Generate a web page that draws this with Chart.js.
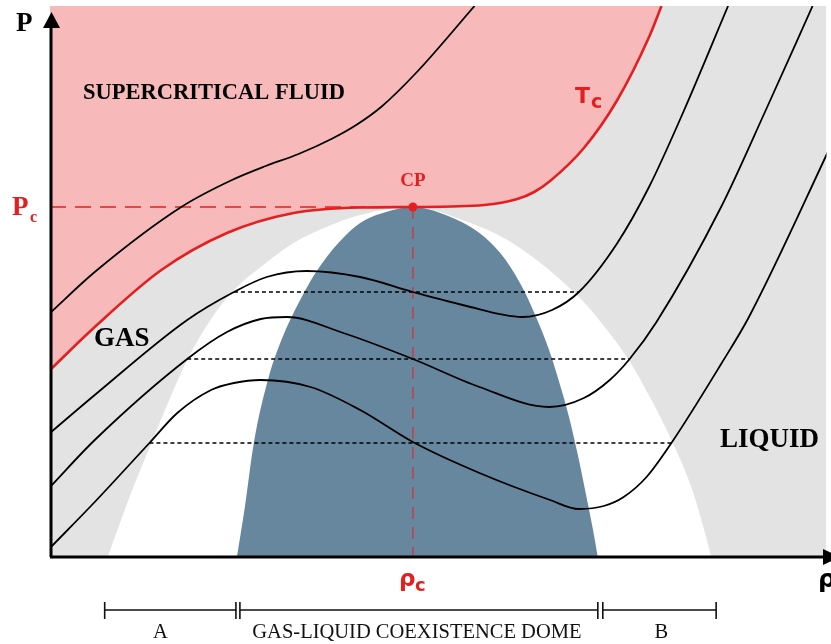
<!DOCTYPE html>
<html lang="en">
<head>
<meta charset="UTF-8">
<title>P-rho phase diagram</title>
<script src="https://cdn.jsdelivr.net/npm/chart.js@4"></script>
<style>
  html, body { margin: 0; padding: 0; background: #fff; }
  #wrap { width: 831px; height: 644px; position: relative; }
</style>
</head>
<body>
<div id="wrap"><canvas id="phaseChart"></canvas></div>
<script>
// rho (density) and P (pressure) in arbitrary units
const rhoMax = 781;
const pMax = 551;
const critical = [365, 350]; // rho_c, P_c

const tcCurve = [[0,187],[45,230],[112,287],[178,324],[245,344],[312,349.5],[365,350],[437,352],
  [470,358],[487,365],[503,376],[537,409],[570,456],[603,521],[615,551]];

const isothermHigh = [[0,244],[45,285],[132,350],[183,377],[217,391],[250,403],[283,418],
  [308,432],[333,450],[370,486],[427,551]];
const isothermA = [[0,124],[45,162],[138,237],[185,265],[218,280],[258,286],[312,280],[365,265],
  [415,252],[475,240],[505,247],[532,265],[570,313],[603,371],[637,445],[682,551]];
const isothermB = [[0,70],[45,117],[138,198],[178,225],[212,238],[238,240],[295,224],[365,198],
  [432,170],[502,150],[537,159],[563,177],[583,198],[610,235],[675,350],[720,447],[767,551]];
const isothermC = [[0,9],[45,55],[100,114],[128,144],[162,167],[185,174],[212,177],[262,170],
  [312,147],[365,115],[432,84],[503,57],[532,48],[557,51],[577,60],[600,80],[625,114],[675,193],
  [703,240],[780,400],[810,465]];

// outer (white) dome and inner coexistence dome (blue)
const outerDome = [[58,0],[80,60],[102,114],[138,197],[162,238],[185,267],[212,290],[245,314],
  [278,330],[312,342],[365,350],[415,337],[465,314],[532,260],[558,230],[582,197],[605,157],
  [625,117],[645,70],[658,27],[665,0]];
const innerDome = [[188,0],[196,50],[205,114],[220,180],[234,220],[250,254],[267,284],[290,314],
  [312,334],[338,345],[365,350],[398,342],[432,324],[452,305],[465,287],[477,266],[488,242],
  [502,207],[513,172],[522,140],[532,97],[540,58],[546,28],[551,0]];

// tie lines: pressure, left end, right end
const tieP = [265, 198, 114];
const tieLeft = [185, 138, 100];
const tieRight = [532, 583, 625];

// brackets under the axis
const bracketStart = [55, 191, 556];
const bracketEnd = [187, 551, 670];
const bracketLabelX = [111, 369, 615];
const bracketLabels = ['A', 'GAS-LIQUID COEXISTENCE DOME', 'B'];

const pts = arr => arr.map(([x, y]) => ({x, y}));

const RED = '#e3201f';
const PINK = '#f7b9ba';
const GREY = '#e3e3e3';
const BLUE = '#67879f';

function curve(data, extra) {
  return Object.assign({
    data: pts(data),
    borderColor: '#000',
    borderWidth: 1.8,
    pointRadius: 0,
    fill: false,
    cubicInterpolationMode: 'monotone'
  }, extra);
}

const datasets = [
  { data: pts([[0, pMax], [rhoMax, pMax]]), borderWidth: 0, pointRadius: 0,
    backgroundColor: GREY, fill: 'start', order: 10 },
  curve(tcCurve, { borderWidth: 0, backgroundColor: PINK, fill: 'end', order: 9 }),
  curve(outerDome, { borderWidth: 0, backgroundColor: '#ffffff', fill: 'start', order: 8 }),
  curve(innerDome, { borderWidth: 0, backgroundColor: BLUE, fill: 'start', order: 7 })
];

tieP.forEach((p, i) => {
  datasets.push({ data: pts([[tieLeft[i], p], [tieRight[i], p]]), borderColor: '#000',
    borderWidth: 1.6, borderDash: [4, 3], pointRadius: 0, fill: false, order: 5 });
});

datasets.push({ data: pts([[0, critical[1]], critical]), borderColor: RED, borderWidth: 1.4,
  borderDash: [16, 9], pointRadius: 0, fill: false, order: 4 });
datasets.push({ data: pts([critical, [critical[0], 0]]), borderColor: '#c73b3f', borderWidth: 1.4,
  borderDash: [12, 8], pointRadius: 0, fill: false, order: 4 });

[isothermHigh, isothermA, isothermB, isothermC].forEach(iso => {
  datasets.push(curve(iso, { order: 3 }));
});

datasets.push(curve(tcCurve, { borderColor: RED, borderWidth: 2.6, order: 2 }));
datasets.push({ data: pts([critical]), showLine: false, pointRadius: 4.5,
  pointBackgroundColor: RED, pointBorderWidth: 0, order: 1 });

const decorations = {
  id: 'decorations',
  afterDatasetsDraw(chart) {
    const ctx = chart.ctx;
    const xs = chart.scales.x, ys = chart.scales.y;
    const area = chart.chartArea;
    const text = (str, x, y, font, color, align) => {
      ctx.font = font;
      ctx.fillStyle = color;
      ctx.textAlign = align || 'left';
      ctx.textBaseline = 'alphabetic';
      ctx.fillText(str, x, y);
    };
    ctx.save();

    // axes with arrow heads
    ctx.strokeStyle = '#000';
    ctx.fillStyle = '#000';
    ctx.lineWidth = 3;
    ctx.beginPath();
    ctx.moveTo(51, area.bottom);
    ctx.lineTo(51, 22);
    ctx.moveTo(50, area.bottom);
    ctx.lineTo(826, area.bottom);
    ctx.stroke();
    ctx.beginPath();
    ctx.moveTo(51.5, 12); ctx.lineTo(43, 28); ctx.lineTo(60, 28); ctx.closePath();
    ctx.fill();
    ctx.beginPath();
    ctx.moveTo(840, area.bottom); ctx.lineTo(823, area.bottom - 8); ctx.lineTo(823, area.bottom + 8);
    ctx.closePath();
    ctx.fill();

    const serifB = s => 'bold ' + s + 'px "Liberation Serif", "Times New Roman", serif';
    const serif = s => s + 'px "Liberation Serif", "Times New Roman", serif';
    const sansB = s => 'bold ' + s + 'px "DejaVu Sans", Verdana, sans-serif';

    text('P', 16, 31, serifB(27), '#000');
    text('\u03c1', 818, 587, sansB(25), '#000');

    const pcY = ys.getPixelForValue(critical[1]);
    const rcX = xs.getPixelForValue(critical[0]);
    text('P', 12, pcY + 8, serifB(27), RED);
    text('c', 30, pcY + 15, serifB(16), RED);
    text('CP', rcX, pcY - 21, serifB(19), RED, 'center');
    text('\u03c1', rcX - 14, area.bottom + 29, sansB(23), RED);
    text('c', rcX + 2, area.bottom + 34, sansB(18), RED);
    text('T', 575, 103, sansB(22), RED);
    text('c', 591, 108, sansB(19), RED);

    text('SUPERCRITICAL FLUID', 83, 99, serifB(22.5), '#000');
    text('GAS', 94, 346, serifB(27), '#000');
    text('LIQUID', 720, 447, serifB(27), '#000');

    // brackets
    const by = 610;
    ctx.lineWidth = 1.6;
    ctx.strokeStyle = '#111';
    bracketStart.forEach((s, i) => {
      const a = xs.getPixelForValue(s), b = xs.getPixelForValue(bracketEnd[i]);
      ctx.beginPath();
      ctx.moveTo(a, by); ctx.lineTo(b, by);
      ctx.moveTo(a, by - 8); ctx.lineTo(a, by + 9);
      ctx.moveTo(b, by - 8); ctx.lineTo(b, by + 9);
      ctx.stroke();
      text(bracketLabels[i], xs.getPixelForValue(bracketLabelX[i]), 638, serif(20.5), '#111', 'center');
    });

    ctx.restore();
  }
};

new Chart(document.getElementById('phaseChart'), {
  type: 'line',
  data: { datasets },
  options: {
    responsive: true,
    maintainAspectRatio: false,
    animation: false,
    events: [],
    layout: { padding: { left: 50, top: 6, right: 0, bottom: 87 } },
    scales: {
      x: { type: 'linear', min: 0, max: rhoMax, display: false },
      y: { type: 'linear', min: 0, max: pMax, display: false }
    },
    plugins: { legend: { display: false }, tooltip: { enabled: false } }
  },
  plugins: [decorations]
});
</script>
</body>
</html>
